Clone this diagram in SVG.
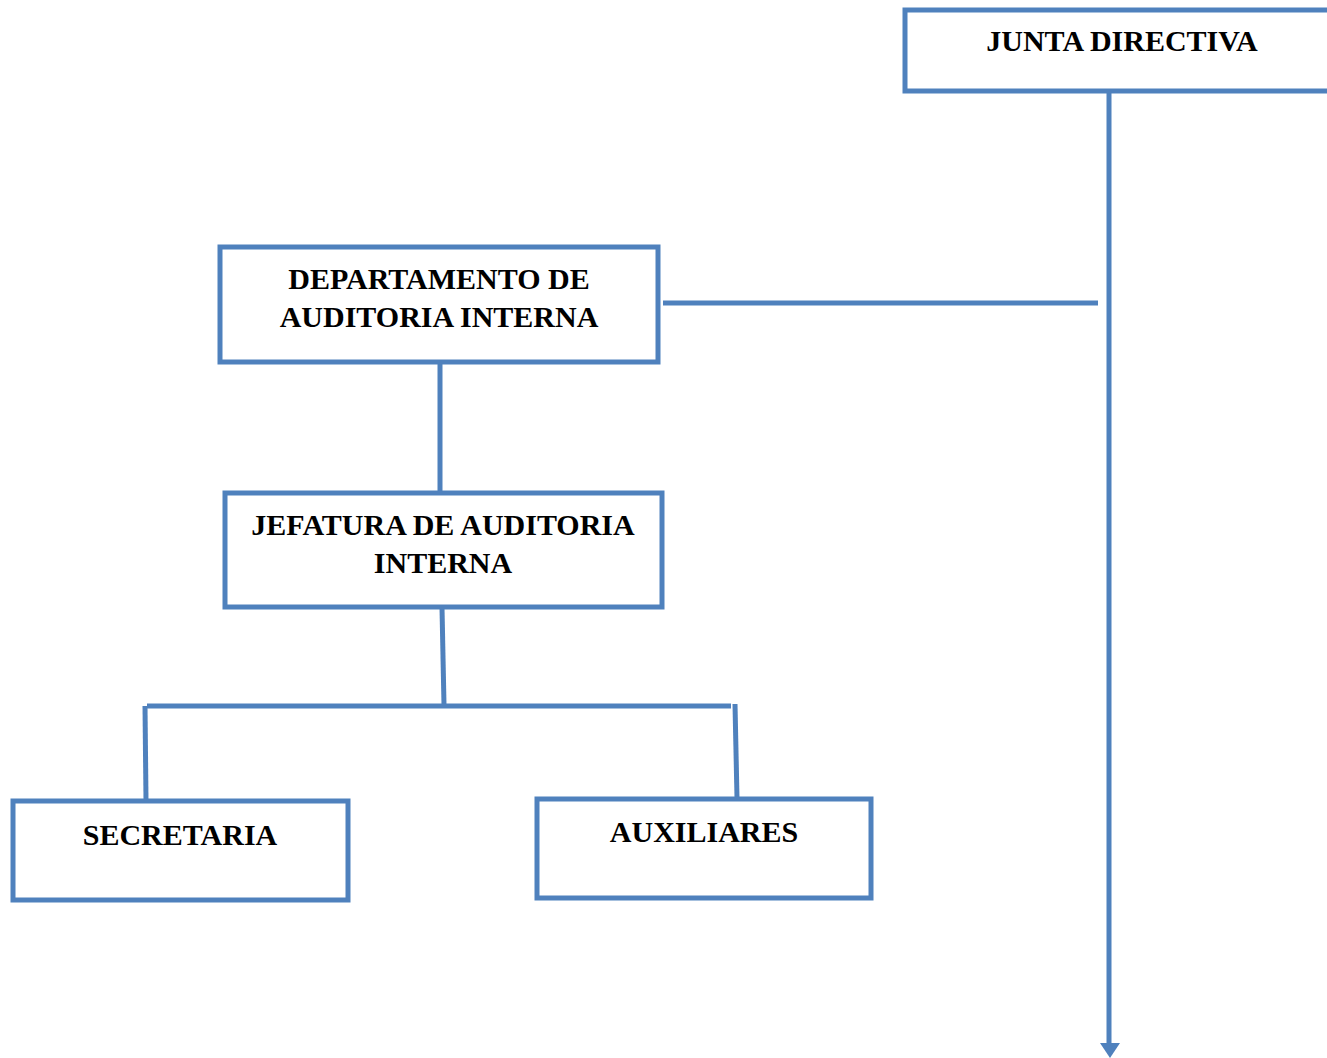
<svg xmlns="http://www.w3.org/2000/svg" width="1327" height="1058" viewBox="0 0 1327 1058">
<defs>
<style>
.box{fill:#fff;stroke:#4F81BD;stroke-width:5}
.ln{stroke:#4F81BD;stroke-width:5;fill:none}
.t{font-family:"Liberation Serif","Times New Roman",serif;font-weight:bold;font-size:30px;fill:#000;text-anchor:middle}
</style>
</defs>
<rect width="1327" height="1058" fill="#fff"/>
<g id="connectors">
<line class="ln" x1="1109" y1="92" x2="1109" y2="1045"/>
<polygon points="1100,1043 1120,1043 1110,1058" fill="#4F81BD"/>
<line class="ln" x1="663" y1="303" x2="1098" y2="303"/>
<line class="ln" x1="440" y1="362" x2="440" y2="492"/>
<line class="ln" x1="442" y1="608" x2="444" y2="705"/>
<line class="ln" x1="147" y1="706" x2="731" y2="706"/>
<line class="ln" x1="145" y1="706" x2="146" y2="800"/>
<line class="ln" x1="735" y1="704" x2="737" y2="798"/>
</g>
<g id="junta">
<rect class="box" x="905" y="10" width="430" height="81"/>
<text class="t" x="1122" y="51">JUNTA DIRECTIVA</text>
</g>
<g id="departamento">
<rect class="box" x="220" y="247" width="438" height="115"/>
<text class="t" x="439" y="289">DEPARTAMENTO DE</text>
<text class="t" x="439" y="327">AUDITORIA INTERNA</text>
</g>
<g id="jefatura">
<rect class="box" x="225" y="493" width="437" height="114"/>
<text class="t" x="443" y="535">JEFATURA DE AUDITORIA</text>
<text class="t" x="443" y="573">INTERNA</text>
</g>
<g id="secretaria">
<rect class="box" x="13" y="801" width="335" height="99"/>
<text class="t" x="180" y="845">SECRETARIA</text>
</g>
<g id="auxiliares">
<rect class="box" x="537" y="799" width="334" height="99"/>
<text class="t" x="704" y="842">AUXILIARES</text>
</g>
</svg>
